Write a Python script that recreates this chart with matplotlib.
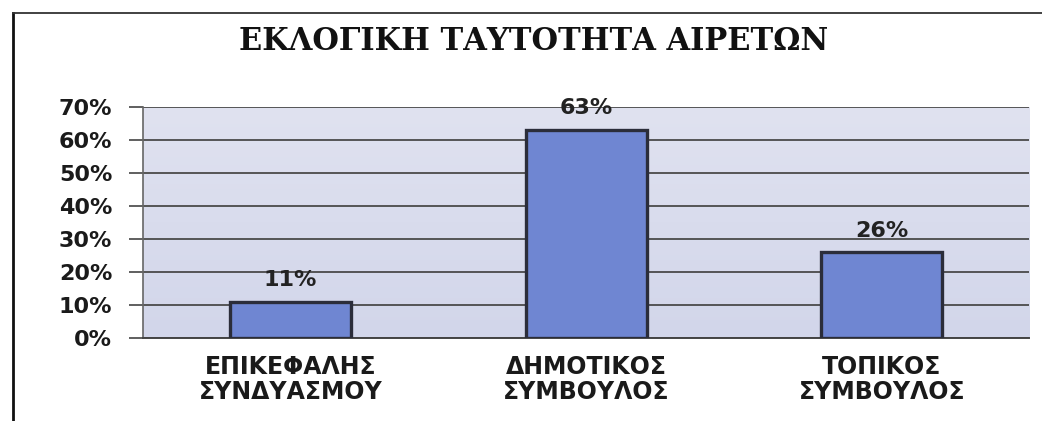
import matplotlib
matplotlib.use("Agg")
import matplotlib.pyplot as plt
from matplotlib.lines import Line2D
from matplotlib.colors import LinearSegmentedColormap
import numpy as np

# data
categories = ["ΕΠΙΚΕΦΑΛΗΣ\nΣΥΝΔΥΑΣΜΟΥ", "ΔΗΜΟΤΙΚΟΣ\nΣΥΜΒΟΥΛΟΣ", "ΤΟΠΙΚΟΣ\nΣΥΜΒΟΥΛΟΣ"]
values = [0.11, 0.63, 0.26]
labels = ["11%", "63%", "26%"]
yticks = [0, 0.1, 0.2, 0.3, 0.4, 0.5, 0.6, 0.7]
ytick_labels = ["0%", "10%", "20%", "30%", "40%", "50%", "60%", "70%"]
title = "ΕΚΛΟΓΙΚΗ ΤΑΥΤΟΤΗΤΑ ΑΙΡΕΤΩΝ"

fig = plt.figure(figsize=(10.42, 4.21), dpi=100)
fig.patch.set_facecolor("white")
ax = fig.add_axes([0.137, 0.197, 0.851, 0.549])

# plot area gradient background
grad = np.linspace(0, 1, 100).reshape(-1, 1)
ax.imshow(grad, extent=[-0.5, 2.5, 0, 0.7], aspect="auto", origin="lower",
          cmap=LinearSegmentedColormap.from_list("bg", ["#d2d6ea", "#e0e2f0"]),
          zorder=0)

x = np.arange(len(categories))
ax.bar(x, values, width=0.41, color="#6f86d2", edgecolor="#2b2d3a", linewidth=2.4, zorder=3)
for xi, v, lab in zip(x, values, labels):
    ax.text(xi, v + 0.035, lab, ha="center", va="bottom", fontsize=16,
            fontweight="bold", family="DejaVu Sans", color="#222222")

ax.set_xlim(-0.5, 2.5)
ax.set_ylim(0, 0.7)
ax.set_yticks(yticks)
ax.set_yticklabels(ytick_labels, fontsize=16, fontweight="bold", family="DejaVu Sans", color="#1a1a1a")
ax.set_xticks(x)
ax.set_xticklabels(categories, fontsize=17, fontweight="bold", family="DejaVu Sans",
                   color="#1a1a1a", linespacing=1.05)
ax.tick_params(axis="y", length=10, width=1.2, color="#444444", pad=12)
ax.tick_params(axis="x", length=0, pad=12)
ax.yaxis.grid(True, color="#4a4a4a", linewidth=1.3, zorder=1)
ax.set_axisbelow(True)
for s in ["top", "right"]:
    ax.spines[s].set_visible(False)
ax.spines["left"].set_color("#666666")
ax.spines["left"].set_linewidth(1.2)
ax.spines["bottom"].set_color("#444444")
ax.spines["bottom"].set_linewidth(1.4)

fig.text(0.512, 0.902, title, ha="center", va="center", fontsize=22,
         fontweight="bold", family="DejaVu Serif", color="#111111")

# outer frame lines (left and top)
fig.add_artist(Line2D([0.0125, 0.0125], [0.0, 0.969], color="#111111", linewidth=2))
fig.add_artist(Line2D([0.0125, 1.0], [0.969, 0.969], color="#333333", linewidth=1.3))

fig.savefig("out.png", dpi=100)
